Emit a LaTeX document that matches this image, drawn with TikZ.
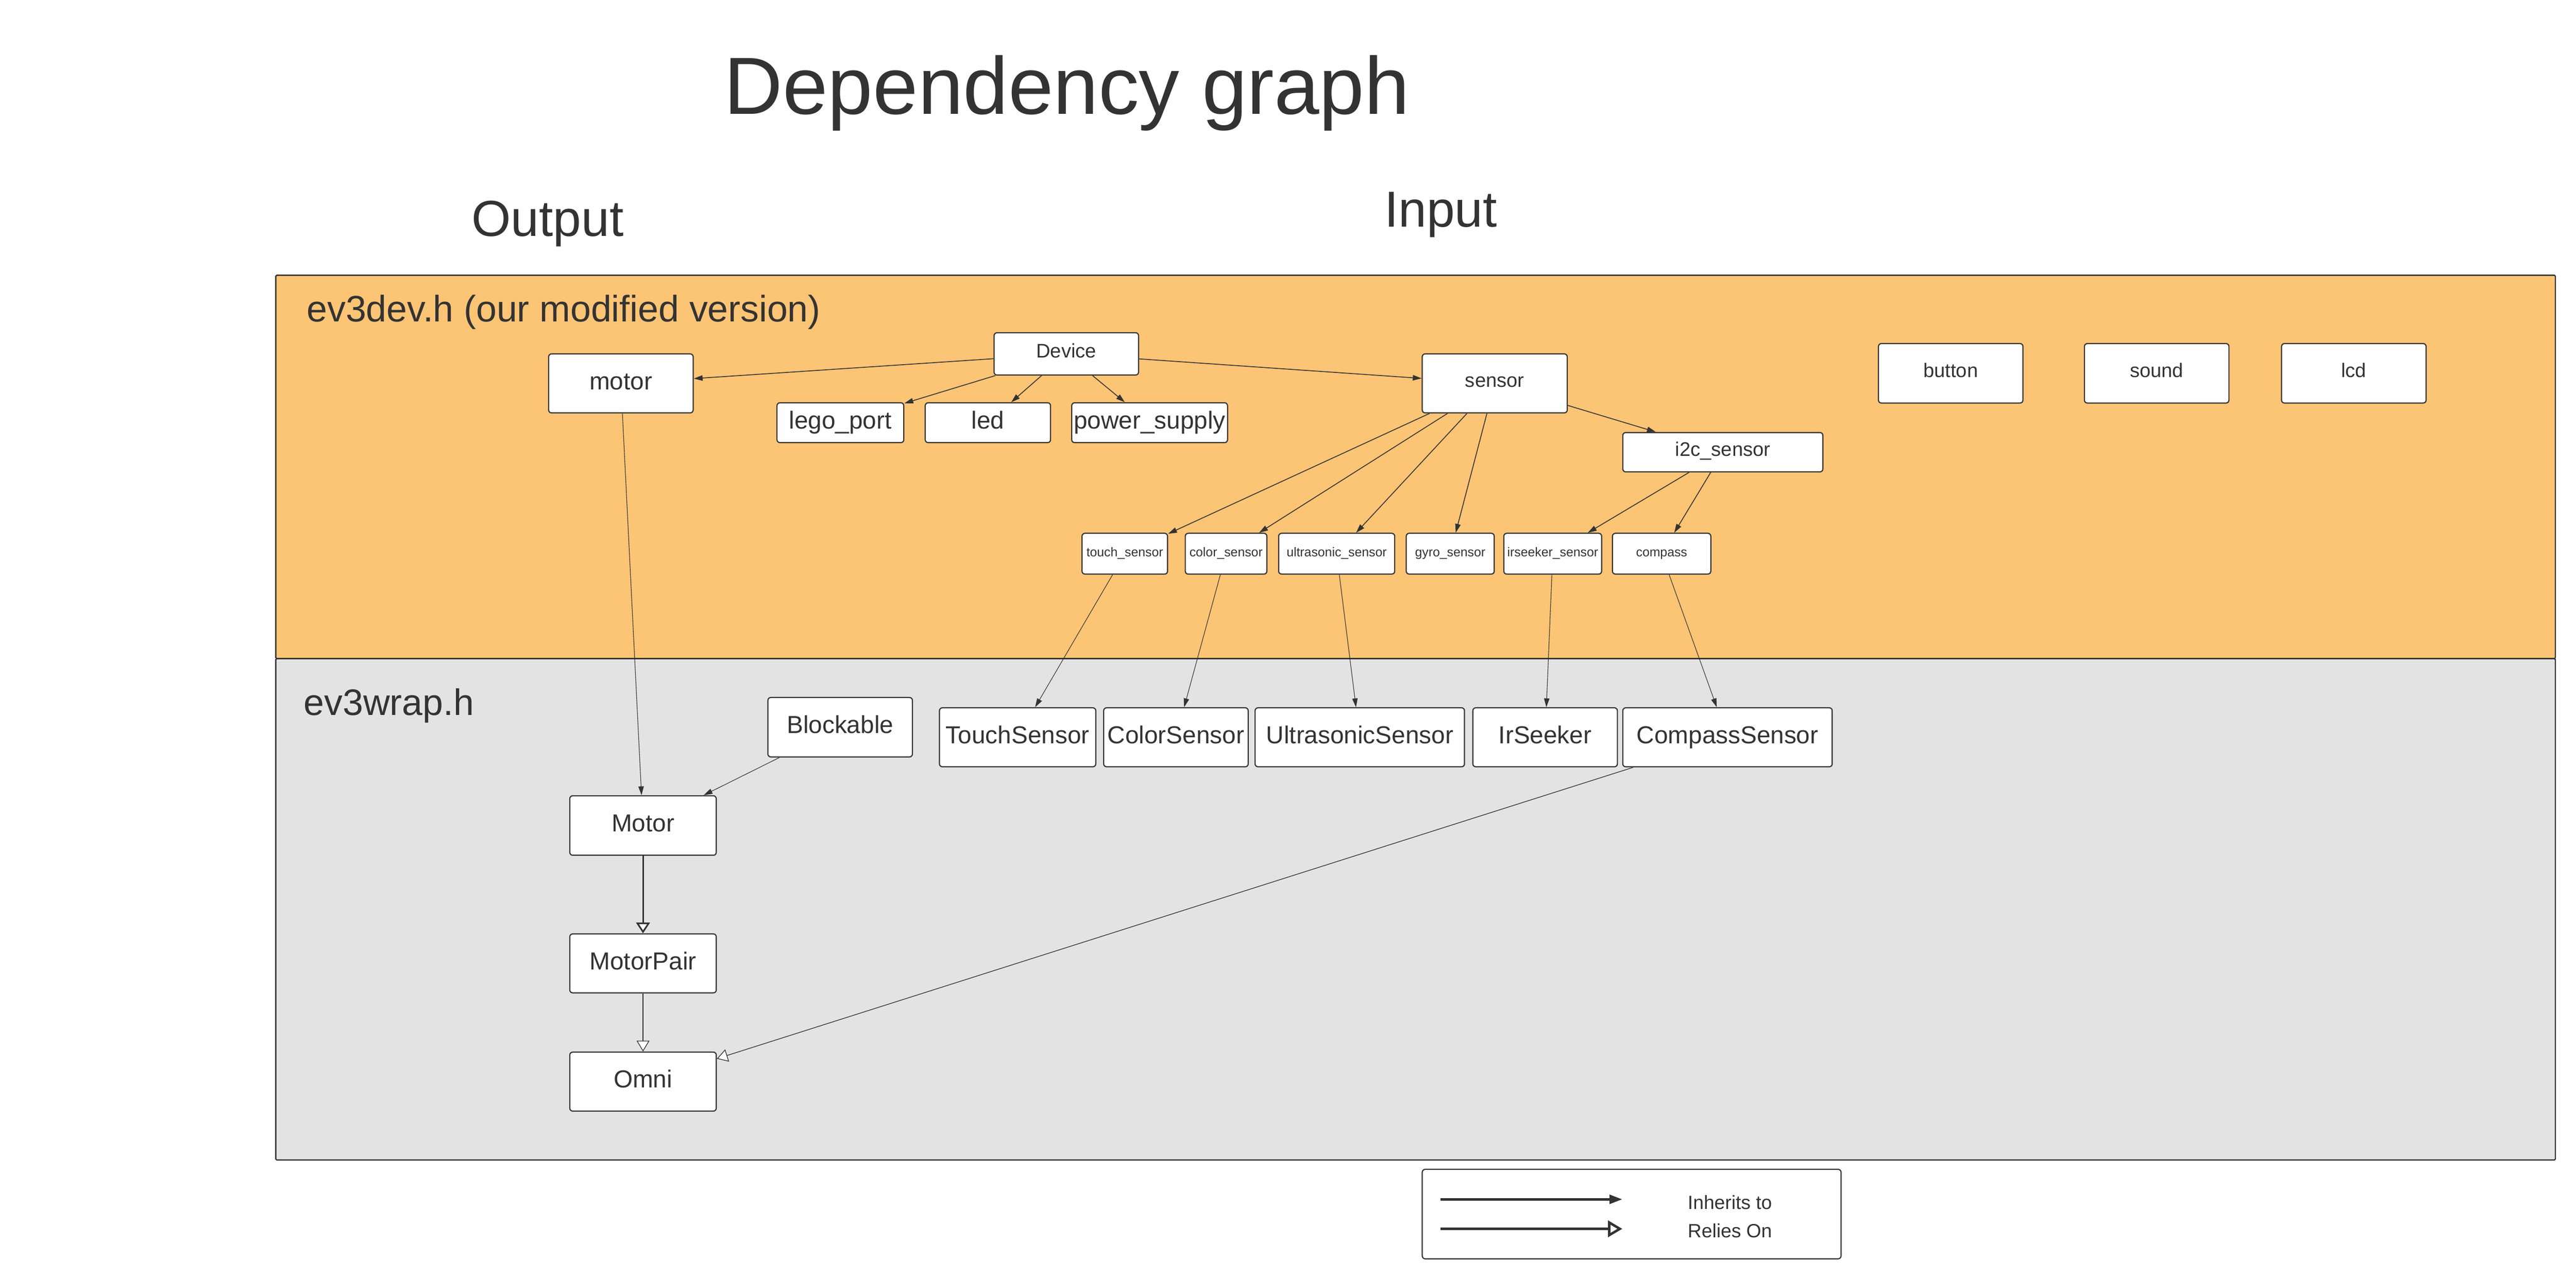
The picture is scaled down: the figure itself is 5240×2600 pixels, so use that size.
\documentclass[tikz,border=0pt]{standalone}
\usepackage{fontspec}
\setmainfont{Liberation Sans}
\usetikzlibrary{arrows.meta}
\definecolor{ink}{HTML}{333333}
\definecolor{orangebg}{HTML}{FCC475}
\definecolor{graybg}{HTML}{E3E3E3}
\newcommand{\myfs}[1]{\fontsize{#1}{#1}\selectfont}
\begin{document}
\begin{tikzpicture}[x=1pt,y=-1pt,
  box/.style={draw=ink, line width=2.3pt, fill=white, rounded corners=6pt, inner sep=0pt, text=ink, align=center},
  bigtxt/.style={font=\myfs{50}, text height=37.5pt, text depth=12.5pt},
  midtxt/.style={font=\myfs{40}, text height=28pt, text depth=12pt},
  smalltxt/.style={font=\myfs{26}, text height=18.5pt, text depth=7.5pt},
  label/.style={inner sep=0pt, text=ink, anchor=base west},
  inh/.style={draw=ink, line width=1.7pt, -{Triangle[length=18pt,width=11pt]}},
  inhthin/.style={draw=ink, line width=1.2pt, -{Triangle[length=18pt,width=11pt]}},
  rel/.style={draw=ink, line width=1.4pt, -{Triangle[length=22pt,width=26pt,fill=white]}},
  relthick/.style={draw=ink, line width=3.3pt, -{Triangle[length=22pt,width=28pt,fill=white]}},
  panel/.style={draw=ink, line width=2.5pt, rounded corners=2pt}
]
\useasboundingbox (0,0) rectangle (5240,2600);
\fill[white] (0,0) rectangle (5240,2600);

% panels
\draw[panel, fill=orangebg] (561,560) rectangle (5198,1340);
\draw[panel, fill=graybg] (561,1340) rectangle (5198,2360);

% titles
\node[label, font=\myfs{165}] (title) at (1473,232) {Dependency graph};
\node[label, font=\myfs{103}] (outlbl) at (959,481) {Output};
\node[label, font=\myfs{103}] (inlbl) at (2816,462) {Input};
\node[label, font=\myfs{75}] (ev3dev) at (624,654) {ev3dev.h (our modified version)};
\node[label, font=\myfs{75}] (ev3wrap) at (618,1455) {ev3wrap.h};

% ev3dev.h nodes
\node[box, bigtxt, minimum width=294pt, minimum height=120pt] (motor) at (1263,780) {motor};
\node[box, midtxt, minimum width=294pt, minimum height=86pt] (Device) at (2169,720) {Device};
\node[box, bigtxt, minimum width=258pt, minimum height=81pt] (lego) at (1709.5,860) {lego\_port};
\node[box, bigtxt, minimum width=255pt, minimum height=81pt] (led) at (2009.5,860) {led};
\node[box, bigtxt, minimum width=317pt, minimum height=81pt] (power) at (2338.5,860) {power\_supply};
\node[box, midtxt, minimum width=295pt, minimum height=120pt] (sensor) at (3040.5,780) {sensor};
\node[box, midtxt, minimum width=407pt, minimum height=80pt] (i2c) at (3504.5,920) {i2c\_sensor};
\node[box, midtxt, minimum width=294pt, minimum height=121pt] (button) at (3968,759.5) {button};
\node[box, midtxt, minimum width=294pt, minimum height=121pt] (sound) at (4387,759.5) {sound};
\node[box, midtxt, minimum width=294pt, minimum height=121pt] (lcd) at (4788,759.5) {lcd};

\node[box, smalltxt, minimum width=174pt, minimum height=83pt] (touch) at (2288,1126.5) {touch\_sensor};
\node[box, smalltxt, minimum width=166pt, minimum height=83pt] (color) at (2494,1126.5) {color\_sensor};
\node[box, smalltxt, minimum width=236pt, minimum height=83pt] (ultra) at (2719,1126.5) {ultrasonic\_sensor};
\node[box, smalltxt, minimum width=179pt, minimum height=83pt] (gyro) at (2950,1126.5) {gyro\_sensor};
\node[box, smalltxt, minimum width=199pt, minimum height=83pt] (irseek) at (3158.5,1126.5) {irseeker\_sensor};
\node[box, smalltxt, minimum width=200pt, minimum height=83pt] (compass) at (3380,1126.5) {compass};

% ev3wrap.h nodes
\node[box, bigtxt, minimum width=294pt, minimum height=121pt] (Blockable) at (1709,1479.5) {Blockable};
\node[box, bigtxt, minimum width=318pt, minimum height=120pt] (TouchS) at (2070,1500) {TouchSensor};
\node[box, bigtxt, minimum width=294pt, minimum height=120pt] (ColorS) at (2392,1500) {ColorSensor};
\node[box, bigtxt, minimum width=426pt, minimum height=120pt] (UltraS) at (2766,1500) {UltrasonicSensor};
\node[box, bigtxt, minimum width=294pt, minimum height=120pt] (IrS) at (3143,1500) {IrSeeker};
\node[box, bigtxt, minimum width=426pt, minimum height=120pt] (CompS) at (3514,1500) {CompassSensor};
\node[box, bigtxt, minimum width=298pt, minimum height=121pt] (Motor) at (1308,1679.5) {Motor};
\node[box, bigtxt, minimum width=298pt, minimum height=120pt] (MotorPair) at (1308,1960) {MotorPair};
\node[box, bigtxt, minimum width=298pt, minimum height=120pt] (Omni) at (1308,2200.5) {Omni};

% edges in ev3dev.h
\draw[inh] (Device) -- (motor);
\draw[inh] (Device) -- (lego);
\draw[inh] (Device) -- (led);
\draw[inh] (Device) -- (power);
\draw[inh] (Device) -- (sensor);
\draw[inh] (sensor) -- (i2c);
\draw[inh] (sensor) -- (touch);
\draw[inh] (sensor) -- (color);
\draw[inh] (sensor) -- (ultra);
\draw[inh] (sensor) -- (gyro);
\draw[inh] (i2c) -- (irseek);
\draw[inh] (i2c) -- (compass);

% edges to ev3wrap.h
\draw[inhthin] (motor) -- (Motor);
\draw[inhthin] (Blockable) -- (Motor);
\draw[inhthin] (touch) -- (TouchS);
\draw[inhthin] (color) -- (ColorS);
\draw[inhthin] (ultra) -- (UltraS);
\draw[inhthin] (irseek) -- (IrS);
\draw[inhthin] (compass) -- (CompS);

% relies on
\draw[relthick] (Motor) -- (MotorPair);
\draw[rel] (MotorPair) -- (Omni);
\draw[rel] (CompS) -- (Omni);

% legend
\node[box, minimum width=852pt, minimum height=182pt] (legend) at (3319,2470) {};
\coordinate (l1s) at (2930,2440);
\coordinate (l1e) at (3300,2440);
\coordinate (l2s) at (2930,2500);
\coordinate (l2e) at (3300,2500);
\draw[draw=ink, line width=5pt, -{Triangle[length=26pt,width=18pt]}] (l1s) -- (l1e);
\draw[draw=ink, line width=5pt, -{Triangle[length=29pt,width=33pt,fill=white]}] (l2s) -- (l2e);
\node[inner sep=0pt, text=ink, anchor=west, font=\myfs{39}] (leginh) at (3433,2446) {Inherits to};
\node[inner sep=0pt, text=ink, anchor=west, font=\myfs{39}] (legrel) at (3433,2504) {Relies On};
\end{tikzpicture}
\end{document}
